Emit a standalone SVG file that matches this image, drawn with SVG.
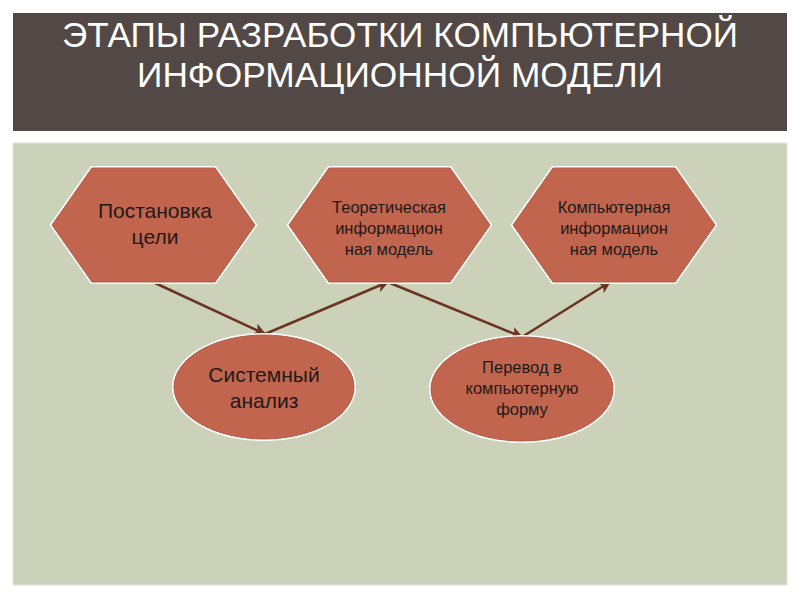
<svg xmlns="http://www.w3.org/2000/svg" width="800" height="600" viewBox="0 0 800 600">
<defs>
<style>
.hex,.ell{fill:#C1654F;stroke:#B55A45;stroke-width:1}
.halo{fill:none;stroke:#FFFFFF;stroke-width:4}
.t{font-family:"Liberation Sans",Arial,sans-serif;text-anchor:middle;fill:#1E1A18}
.big{font-size:21px}
.sm{font-size:16.5px}
.title{font-family:"Liberation Sans",Arial,sans-serif;font-size:35px;fill:#FFFFFF;text-anchor:middle}
.con{stroke:#6A3322;stroke-width:2.5;fill:none;marker-end:url(#ah)}
</style>
<marker id="ah" viewBox="0 0 10 10" refX="9" refY="5" markerWidth="5" markerHeight="5" orient="auto" markerUnits="strokeWidth">
<path d="M0,0 L10,5 L0,10 L2.5,5 z" fill="#6A3322"/>
</marker>
</defs>
<rect x="0" y="0" width="800" height="600" fill="#FFFFFF"/>
<rect x="13" y="13" width="774" height="118" fill="#524845"/>
<rect x="13" y="143" width="774" height="442" fill="#CCD1B9" stroke="#E2E5D6" stroke-width="1"/>
<g id="title">
<text class="title" x="400" y="47" textLength="676" lengthAdjust="spacingAndGlyphs">ЭТАПЫ РАЗРАБОТКИ КОМПЬЮТЕРНОЙ</text>
<text class="title" x="400" y="87" textLength="526" lengthAdjust="spacingAndGlyphs">ИНФОРМАЦИОННОЙ МОДЕЛИ</text>
</g>
<g id="connectors">
<line class="con" x1="155" y1="283" x2="265" y2="334"/>
<line class="con" x1="265" y1="334" x2="388" y2="282"/>
<line class="con" x1="390" y1="283" x2="522" y2="337"/>
<line class="con" x1="522" y1="337" x2="610" y2="282"/>
</g>
<g id="n1">
<polygon class="halo" points="52,225 92,168 215,168 255,225 215,282 92,282"/>
<polygon class="hex" points="52,225 92,168 215,168 255,225 215,282 92,282"/>
<text class="t big" x="155" y="218">Постановка</text>
<text class="t big" x="155" y="244">цели</text>
</g>
<g id="n2">
<polygon class="halo" points="289,225 329,168 450,168 490,225 450,282 329,282"/>
<polygon class="hex" points="289,225 329,168 450,168 490,225 450,282 329,282"/>
<text class="t sm" x="389" y="213">Теоретическая</text>
<text class="t sm" x="389" y="234">информацион</text>
<text class="t sm" x="389" y="255">ная модель</text>
</g>
<g id="n3">
<polygon class="halo" points="513,225 553,168 675,168 715,225 675,282 553,282"/>
<polygon class="hex" points="513,225 553,168 675,168 715,225 675,282 553,282"/>
<text class="t sm" x="614" y="213">Компьютерная</text>
<text class="t sm" x="614" y="234">информацион</text>
<text class="t sm" x="614" y="255">ная модель</text>
</g>
<g id="n4">
<ellipse class="halo" cx="264" cy="387" rx="90" ry="52"/>
<ellipse class="ell" cx="264" cy="387" rx="90" ry="52"/>
<text class="t big" x="264" y="382">Системный</text>
<text class="t big" x="264" y="408">анализ</text>
</g>
<g id="n5">
<ellipse class="halo" cx="522" cy="389" rx="91" ry="52"/>
<ellipse class="ell" cx="522" cy="389" rx="91" ry="52"/>
<text class="t sm" x="522" y="373">Перевод в</text>
<text class="t sm" x="522" y="394">компьютерную</text>
<text class="t sm" x="522" y="415">форму</text>
</g>
</svg>
